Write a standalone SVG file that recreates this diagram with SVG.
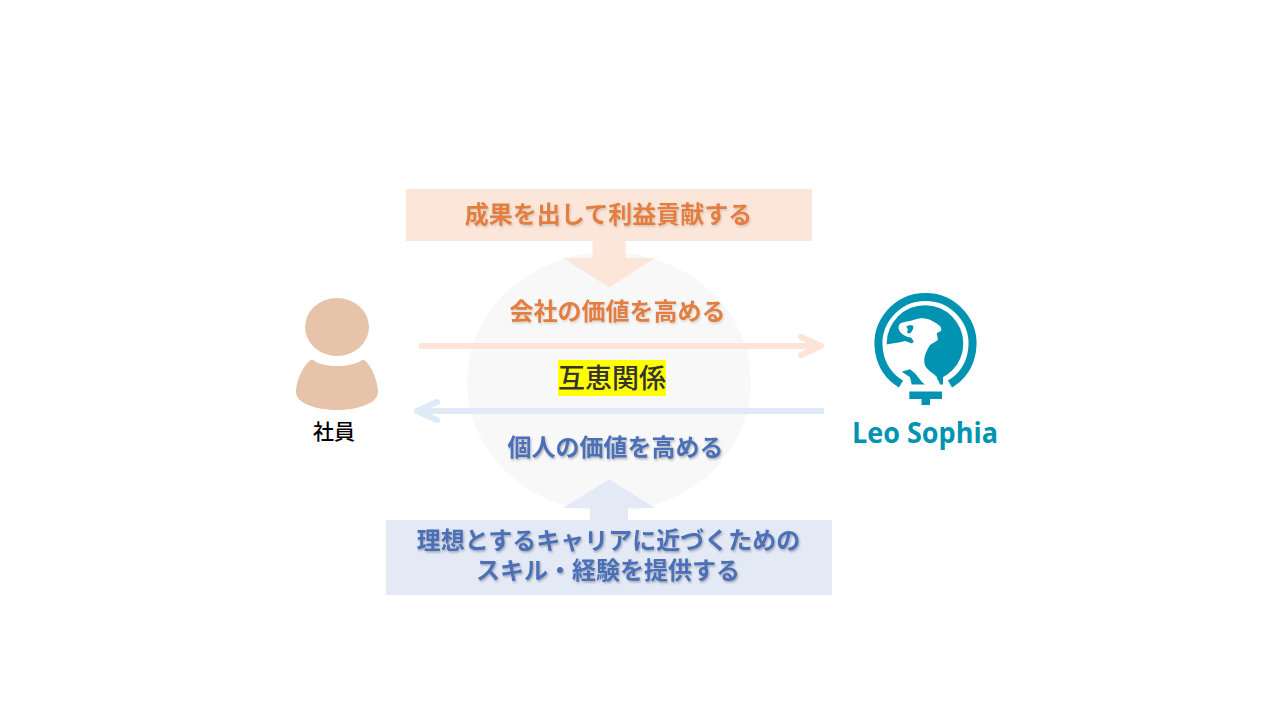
<svg xmlns="http://www.w3.org/2000/svg" width="1280" height="720" viewBox="0 0 1280 720">
<style>
.t{font-family:"Noto Sans CJK JP","Noto Sans",sans-serif;font-weight:700;text-anchor:middle}
.o{fill:#e37e3f;font-size:24px;filter:url(#sho)}
.b{fill:#4b6fb8;font-size:24px;filter:url(#sh)}
.ln{fill:none;stroke-width:6}
.hd{fill:none;stroke-width:6;stroke-linecap:round;stroke-linejoin:round}
.tl{fill:#0093b2}
</style>
<defs>
<filter id="sh" x="-5%" y="-20%" width="110%" height="150%"><feDropShadow dx="1" dy="1.5" stdDeviation="0.9" flood-color="#000" flood-opacity="0.3"/></filter>
<filter id="sho" x="-5%" y="-20%" width="110%" height="150%"><feDropShadow dx="1" dy="1.5" stdDeviation="0.9" flood-color="#000" flood-opacity="0.16"/></filter>
<clipPath id="disc"><circle cx="925" cy="343.500" r="40.500"/></clipPath>
</defs>
<rect width="1280" height="720" fill="#fff"/>
<g id="circle"><ellipse cx="609" cy="382" rx="142" ry="130" fill="#f8f8f8"/></g>
<g id="box-top">
<path d="M592.500 240V258H563L609 287.500L655 258H625.500V240Z" fill="#fbe6d9"/>
<rect x="406" y="189" width="406" height="52" fill="#fbe6d9"/>
<text class="t o" x="608.500" y="223">成果を出して利益貢献する</text>
</g>
<g id="box-bottom">
<path d="M609 479.500L563 508H590V521H628V508H655Z" fill="#e3e9f5"/>
<rect x="386" y="520" width="446" height="75" fill="#e3e9f5"/>
<text class="t b"><tspan x="608.500" y="549">理想とするキャリアに近づくための</tspan><tspan x="608" y="579">スキル・経験を提供する</tspan></text>
</g>
<g id="connectors">
<path class="ln" d="M419 346H820" stroke="#fce4d6"/>
<path class="hd" d="M801 337L821 346L801 355" stroke="#fce4d6"/>
<path class="ln" d="M824 411H420" stroke="#deeaf6"/>
<path class="hd" d="M437 402L417 411L437 420" stroke="#deeaf6"/>
</g>
<g id="label-company"><text class="t o" x="617.500" y="320">会社の価値を高める</text></g>
<g id="label-mutual">
<rect x="558" y="360" width="108" height="36" fill="#ff0"/>
<text class="t" x="612" y="388" font-size="27" fill="#333" style="font-weight:500">互恵関係</text>
</g>
<g id="label-person"><text class="t b" x="615.500" y="456">個人の価値を高める</text></g>
<g id="employee">
<ellipse cx="337" cy="327" rx="32" ry="29" fill="#e7c3aa"/>
<path d="M313 360C323 368 351 368 362 360C367 358 378 378 378 392C378 404 356 410 337 410C318 410 296 404 296 392C296 378 308 358 313 360Z" fill="#e7c3aa"/>
<text class="t" x="334" y="439" font-size="21" fill="#000" style="font-weight:500">社員</text>
</g>
<g id="leo-sophia">
<path d="M901 384A47 47 0 1 1 950 384" fill="none" stroke="#0093b2" stroke-width="8"/>
<circle class="tl" cx="925" cy="343.500" r="38.300"/>
<path clip-path="url(#disc)" fill="#fff" d="M898.500 328C898.500 324.500 900 323 903 322.500C907 321.500 910 321 913.300 320C918 318.500 922 318 925 318.500C931 319.500 936 322.500 940.500 326.500L941.500 330.500L936.700 333.300L938 340L930 345C927 350 924.300 355 924.300 360C924.300 364 925 366 926.700 368C930 372 934 374 936.700 376.700L940 386H880V345L886 344.500L900 342.300L905 341L912 343.500L913.800 341.500L911 337.500C906 337 899.500 334 898.500 328Z"/>
<path class="tl" d="M906 326.500C908 325.500 911 325 913 325.700C913.800 327 913 330 911 332.500C909.500 334 907.500 333.500 907 332C908.500 330.500 908 328 906 326.500Z"/>
<path class="tl" d="M901.700 371.700L910 369.300L915 373.300L921.700 381.700L925 384.500H911.700L910 377.300L906.700 375Z"/>
<path class="tl" d="M936.700 376.700L940 384.500H943V376H938Z"/>
<rect class="tl" x="909.300" y="391.500" width="32.700" height="7.500"/>
<rect class="tl" x="921.500" y="399" width="8.500" height="6"/>
<text x="925" y="443" text-anchor="middle" font-family="'Open Sans',sans-serif" font-weight="700" font-size="29" fill="#0093b2" textLength="146" lengthAdjust="spacingAndGlyphs">Leo Sophia</text>
</g>
</svg>
